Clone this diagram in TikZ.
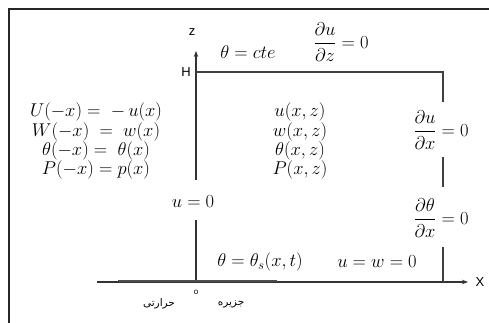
\RequirePackage{fix-cm}
\documentclass[tikz,border=0pt]{standalone}
\usepackage{amsmath}
\usepackage{fontspec}
\newfontfamily\labfont{Liberation Sans}
\newfontfamily\arabicfont[Script=Arabic]{DejaVu Sans}
\TeXXeTstate=1
\usetikzlibrary{arrows.meta}
\begin{document}
\begin{tikzpicture}[x=1pt,y=-1pt,
  frame/.style={line width=2pt,draw=black!85},
  axisline/.style={line width=1.1pt,draw=black!80},
  wall/.style={line width=1.3pt,draw=black!75},
  tip/.style={-{Stealth[length=6pt,width=4.5pt]}},
  eq/.style={inner sep=0pt,font=\fontsize{18.5}{20}\selectfont},
  sanslab/.style={inner sep=0pt,font=\labfont\fontsize{13}{15}\selectfont},
  farsi/.style={inner sep=0pt,font=\arabicfont\fontsize{10.5}{12}\selectfont}]
\useasboundingbox (0,0) rectangle (489,323);
% frame
\coordinate (F0) at (9,9);
\coordinate (F1) at (489,9);
\coordinate (F2) at (9,323);
\draw[frame] (F1) -- (F0) -- (F2);
% axes
\coordinate (O) at (196,282);
\coordinate (Xs) at (97,282);
\coordinate (Xe) at (468,282);
\coordinate (Zg1) at (196,220);
\coordinate (Zg2) at (196,180);
\coordinate (Zt) at (196,51);
\draw[axisline] (O) -- (Zg1);
\draw[axisline,tip] (Zg2) -- (Zt);
\draw[axisline,tip] (Xs) -- (Xe);
% heat island bar
\coordinate (I1) at (118,281);
\coordinate (I2) at (277,281);
\draw[line width=2.6pt,draw=black!70] (I1) -- (I2);
% box walls
\coordinate (Hp) at (196,72);
\coordinate (R0) at (443,72);
\coordinate (R1) at (443,102);
\coordinate (R2) at (443,157);
\coordinate (R3) at (443,187);
\coordinate (R4) at (443,247);
\coordinate (R5) at (443,282);
\draw[wall] (Hp) -- (R0) -- (R1);
\draw[wall] (R2) -- (R3);
\draw[wall] (R4) -- (R5);
% axis labels
\node[sanslab] (zl) at (192,32) {z};
\node[sanslab] (Hl) at (186,72) {H};
\node[sanslab] (Xl) at (480,282) {X};
\node[inner sep=0pt,font=\labfont\fontsize{8}{9}\selectfont] (ol) at (196,292) {o};
\node[farsi] (f1) at (159,304) {\beginR حرارتی\endR};
\node[farsi] (f2) at (231,304) {\beginR جزیره\endR};
% top conditions
\node[eq] (tc) at (248,52) {$\theta = cte$};
\node[eq] (duz) at (341,42) {$\dfrac{\partial u}{\partial z} = 0$};
% right conditions
\node[eq] (dux) at (441,130) {$\dfrac{\partial u}{\partial x} = 0$};
\node[eq] (dtx) at (441,218) {$\dfrac{\partial \theta}{\partial x} = 0$};
% bottom conditions
\node[eq] (ts) at (260,262) {$\theta = \theta_s(x,t)$};
\node[eq] (uw) at (377,262) {$u = w = 0$};
\node[eq] (u0) at (193,202) {$u = 0$};
% symmetry relations
\node[eq] (s1) at (96,112) {$U(-x) = \;-\, u(x)$};
\node[eq] (s2) at (96,132) {$W(-x) \;=\; w(x)$};
\node[eq] (s3) at (96,151) {$\theta(-x) =\; \theta(x)$};
\node[eq] (s4) at (96,170) {$P(-x) = p(x)$};
% field variables
\node[eq] (v1) at (300,112) {$u(x,z)$};
\node[eq] (v2) at (300,132) {$w(x,z)$};
\node[eq] (v3) at (300,151) {$\theta(x,z)$};
\node[eq] (v4) at (300,170) {$P(x,z)$};
\end{tikzpicture}
\end{document}
